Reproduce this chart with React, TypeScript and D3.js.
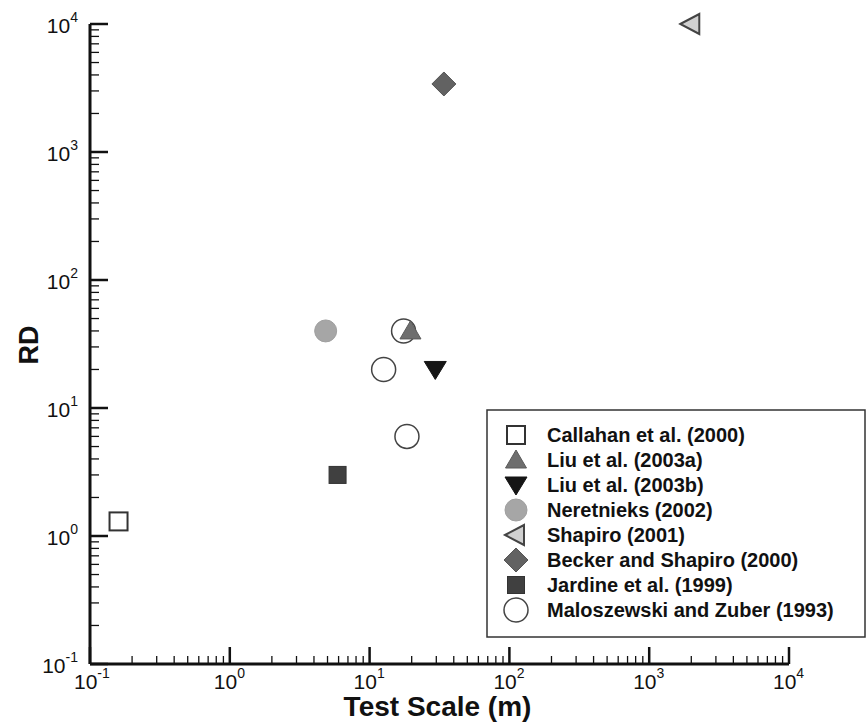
import React, { useEffect, useRef } from 'react';
import * as d3 from 'd3';

// series: [test scale (m), RD]
const callahan = [[0.16, 1.3]];
const liuA = [[19.6, 40]];
const liuB = [[29.5, 20]];
const neretnieks = [[4.85, 40]];
const shapiro = [[2000, 10000]];
const becker = [[34, 3400]];
const jardine = [[5.9, 3]];
const maloszewski = [[12.6, 20], [18.5, 6], [17.5, 40]];

const xDecades = [-1, 0, 1, 2, 3, 4];
const yDecades = [-1, 0, 1, 2, 3, 4];

const legendNames = [
  'Callahan et al. (2000)',
  'Liu et al. (2003a)',
  'Liu et al. (2003b)',
  'Neretnieks (2002)',
  'Shapiro (2001)',
  'Becker and Shapiro (2000)',
  'Jardine et al. (1999)',
  'Maloszewski and Zuber (1993)',
];

const W = 867;
const H = 723;
const margin = { top: 24, right: 78, bottom: 59, left: 90 };

// marker drawing: appends the shape to g, centred at (0,0)
function drawMarker(g: any, kind: string) {
  if (kind === 'square-open') {
    g.append('rect').attr('x', -9).attr('y', -9).attr('width', 18).attr('height', 18)
      .attr('fill', '#fff').attr('stroke', '#333').attr('stroke-width', 2);
  } else if (kind === 'tri-up') {
    g.append('path').attr('d', 'M0,-10L10.5,8L-10.5,8Z').attr('fill', '#6e6e6e').attr('stroke', '#5a5a5a').attr('stroke-width', 1);
  } else if (kind === 'tri-down') {
    g.append('path').attr('d', 'M-11,-8L11,-8L0,10Z').attr('fill', '#151515').attr('stroke', '#151515').attr('stroke-width', 1);
  } else if (kind === 'circle-gray') {
    g.append('circle').attr('r', 11).attr('fill', '#a6a6a6').attr('stroke', '#a0a0a0');
  } else if (kind === 'tri-left') {
    g.append('path').attr('d', 'M-11,0L8,-10L8,10Z').attr('fill', '#d0d0d0').attr('stroke', '#444').attr('stroke-width', 2);
  } else if (kind === 'diamond') {
    g.append('path').attr('d', 'M0,-12L12,0L0,12L-12,0Z').attr('fill', '#626262').attr('stroke', '#555').attr('stroke-width', 1);
  } else if (kind === 'square-dark') {
    g.append('rect').attr('x', -8.5).attr('y', -8.5).attr('width', 17).attr('height', 17)
      .attr('fill', '#404040').attr('stroke', '#333').attr('stroke-width', 1);
  } else if (kind === 'circle-open') {
    g.append('circle').attr('r', 12).attr('fill', '#fff').attr('stroke', '#444').attr('stroke-width', 1.5);
  }
}

const series = [
  { data: callahan, kind: 'square-open' },
  { data: liuA, kind: 'tri-up' },
  { data: liuB, kind: 'tri-down' },
  { data: neretnieks, kind: 'circle-gray' },
  { data: shapiro, kind: 'tri-left' },
  { data: becker, kind: 'diamond' },
  { data: jardine, kind: 'square-dark' },
  { data: maloszewski, kind: 'circle-open' },
];

function App() {
  const ref = useRef<SVGSVGElement>(null);

  useEffect(() => {
    const svg = d3.select(ref.current);
    svg.selectAll('*').remove();

    const x = d3.scaleLog().domain([0.1, 10000]).range([margin.left, W - margin.right]);
    const y = d3.scaleLog().domain([0.1, 10000]).range([H - margin.bottom, margin.top]);

    const font = '"Liberation Sans", Arial, Helvetica, sans-serif';
    const x0 = x(0.1);
    const y0 = y(0.1);

    // minor + major ticks (pointing inward)
    const ticks = svg.append('g').attr('stroke', '#111');
    xDecades.forEach((d, i) => {
      const v = Math.pow(10, d);
      ticks.append('line').attr('x1', x(v)).attr('x2', x(v)).attr('y1', y0).attr('y2', y0 - 17).attr('stroke-width', 2.5);
      if (i < xDecades.length - 1) {
        for (let m = 2; m < 10; m++) {
          ticks.append('line').attr('x1', x(v * m)).attr('x2', x(v * m)).attr('y1', y0).attr('y2', y0 - 8).attr('stroke-width', 1.3);
        }
      }
    });
    yDecades.forEach((d, i) => {
      const v = Math.pow(10, d);
      ticks.append('line').attr('x1', x0).attr('x2', x0 + 18).attr('y1', y(v)).attr('y2', y(v)).attr('stroke-width', 2.5);
      if (i < yDecades.length - 1) {
        for (let m = 2; m < 10; m++) {
          ticks.append('line').attr('x1', x0).attr('x2', x0 + 9).attr('y1', y(v * m)).attr('y2', y(v * m)).attr('stroke-width', 1.3);
        }
      }
    });

    // axis lines
    svg.append('line').attr('x1', x0).attr('x2', x(10000)).attr('y1', y0).attr('y2', y0)
      .attr('stroke', '#111').attr('stroke-width', 3);
    svg.append('line').attr('x1', x0).attr('x2', x0).attr('y1', y0).attr('y2', y(10000))
      .attr('stroke', '#111').attr('stroke-width', 3);

    // tick labels
    xDecades.forEach(d => {
      const t = svg.append('text').attr('x', x(Math.pow(10, d)) - 16).attr('y', y0 + 25)
        .attr('font-family', font).attr('font-size', 21).attr('fill', '#111');
      t.append('tspan').text('10');
      t.append('tspan').attr('dy', -11).attr('font-size', 14).text(String(d));
    });
    yDecades.forEach(d => {
      const t = svg.append('text').attr('x', x0 - 12).attr('y', y(Math.pow(10, d)) + 9)
        .attr('text-anchor', 'end').attr('font-family', font).attr('font-size', 21).attr('fill', '#111');
      t.append('tspan').text('10');
      t.append('tspan').attr('dy', -11).attr('font-size', 14).text(String(d));
    });

    // axis titles
    svg.append('text').attr('x', (x0 + x(10000)) / 2 - 2).attr('y', 716).attr('text-anchor', 'middle')
      .attr('font-family', font).attr('font-weight', 'bold').attr('font-size', 28).attr('fill', '#111')
      .text('Test Scale (m)');
    svg.append('text').attr('transform', 'translate(38,345) rotate(-90)').attr('text-anchor', 'middle')
      .attr('font-family', font).attr('font-weight', 'bold').attr('font-size', 27).attr('fill', '#111')
      .text('RD');

    // points: open circles first so the triangle sits on top
    const order = [7, 0, 1, 2, 3, 4, 5, 6];
    order.forEach(i => {
      const s = series[i];
      s.data.forEach(p => {
        const g = svg.append('g').attr('transform', `translate(${x(p[0])},${y(p[1])})`);
        drawMarker(g, s.kind);
      });
    });

    // legend
    const lg = svg.append('g').attr('transform', 'translate(487,410)');
    lg.append('rect').attr('x', 0).attr('y', 0).attr('width', 378).attr('height', 227)
      .attr('fill', '#fff').attr('stroke', '#333').attr('stroke-width', 1.5);
    legendNames.forEach((name, i) => {
      const row = lg.append('g').attr('transform', `translate(29,${25 + i * 25})`);
      drawMarker(row, series[i].kind);
      row.append('text').attr('x', 31).attr('y', 7).attr('font-family', font).attr('font-weight', 'bold')
        .attr('font-size', 20).attr('fill', '#111').text(name);
    });
  }, []);

  return (
    <svg ref={ref} width={W} height={H}
         style={{ position: 'absolute', left: 0, top: 0, background: '#fff' }} />
  );
}

export default App;
